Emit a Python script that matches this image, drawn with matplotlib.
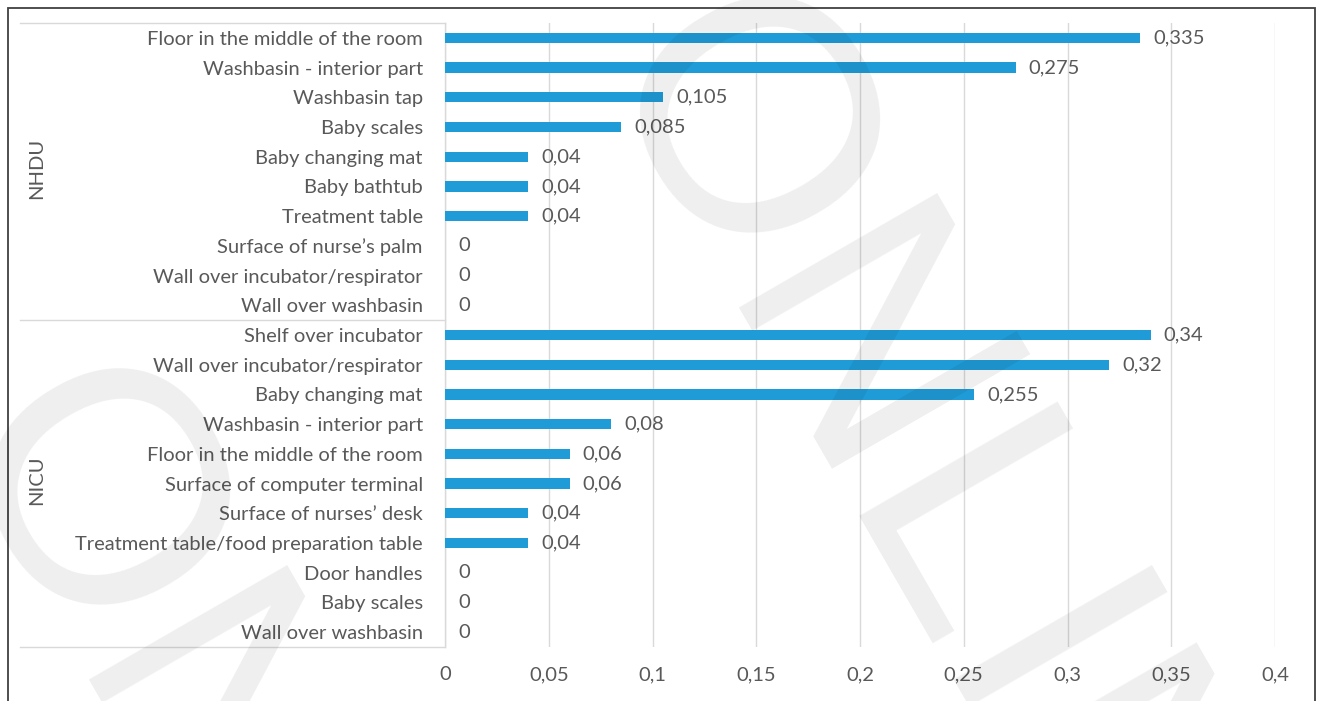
import numpy as np
import matplotlib.pyplot as plt
from matplotlib.patches import Rectangle
from matplotlib.lines import Line2D
import matplotlib.transforms as mtransforms

# data
nhdu_sites = ["Floor in the middle of the room", "Washbasin - interior part", "Washbasin tap",
              "Baby scales", "Baby changing mat", "Baby bathtub", "Treatment table",
              "Surface of nurse\u2019s palm", "Wall over incubator/respirator", "Wall over washbasin"]
nhdu_values = [0.335, 0.275, 0.105, 0.085, 0.04, 0.04, 0.04, 0, 0, 0]

nicu_sites = ["Shelf over incubator", "Wall over incubator/respirator", "Baby changing mat",
              "Washbasin - interior part", "Floor in the middle of the room",
              "Surface of computer terminal", "Surface of nurses\u2019 desk",
              "Treatment table/food preparation table", "Door handles", "Baby scales",
              "Wall over washbasin"]
nicu_values = [0.34, 0.32, 0.255, 0.08, 0.06, 0.06, 0.04, 0.04, 0, 0, 0]

groups = ["NHDU", "NICU"]
x_ticks = [0, 0.05, 0.1, 0.15, 0.2, 0.25, 0.3, 0.35, 0.4]

FONT = "Lato"
FS = 14.5
TXT = "#595959"
BAR = "#1f9bd7"
GRID = "#d9d9d9"


def comma(v):
    return f"{round(v, 3):g}".replace(".", ",")


W, H = 1319, 701
fig = plt.figure(figsize=(W / 100, H / 100), dpi=100)
ax = fig.add_axes([445 / W, 1 - 647 / H, (1275 - 445) / W, (647 - 23) / H])

sites = nhdu_sites + nicu_sites
values = nhdu_values + nicu_values
y = np.arange(len(sites))

ax.barh(y, values, height=0.35, color=BAR, zorder=3)
for yi, v in zip(y, values):
    ax.annotate(comma(v), (v, yi), xytext=(9.5, 0), textcoords="offset points",
                va="center", ha="left", fontsize=FS, color=TXT, family=FONT)

ax.set_xlim(0, 0.4)
ax.set_ylim(len(sites) - 0.5, -0.5)
ax.set_xticks(x_ticks)
ax.set_xticklabels([comma(t) for t in x_ticks], fontsize=FS, color=TXT, family=FONT)
ax.set_yticks(y)
ax.set_yticklabels(sites, fontsize=FS, color=TXT, family=FONT)
ax.tick_params(axis="both", length=0)
ax.tick_params(axis="y", pad=16)
ax.tick_params(axis="x", pad=14)
ax.xaxis.grid(True, color=GRID, lw=1, zorder=0)
ax.set_axisbelow(True)
for s in ["top", "right", "bottom"]:
    ax.spines[s].set_visible(False)
ax.spines["left"].set_color(GRID)
ax.spines["left"].set_linewidth(1)

# group separators and group names on the left
trans = mtransforms.blended_transform_factory(fig.transFigure, ax.transData)
n1 = len(nhdu_sites)
for yy in [-0.5, n1 - 0.5, len(sites) - 0.5]:
    ax.add_line(Line2D([20 / W, 445 / W], [yy, yy], transform=trans, color=GRID,
                       lw=1, clip_on=False))
centers = [(n1 - 1) / 2 - 0.1, n1 + (len(nicu_sites) - 1) / 2 - 0.1]
for g, c in zip(groups, centers):
    fig.text(37 / W, c, g, transform=trans, rotation=90, ha="center", va="center",
             fontsize=FS, color=TXT, family=FONT)

# watermark
for (px, py) in [(587, 72), (-63, 444)]:
    fig.text(px / W, 1 - py / H, "ONLINE", rotation=-60, rotation_mode="anchor",
             ha="left", va="baseline", fontsize=240, color="black", alpha=0.065,
             family="Liberation Sans", zorder=10)

# outer frame
fig.patches.append(Rectangle((8 / W, -0.05), (1315 - 8) / W, 1 - 8 / H + 0.05,
                             transform=fig.transFigure, fill=False,
                             edgecolor="#404040", lw=1.3))

fig.savefig("out.png", dpi=100)
